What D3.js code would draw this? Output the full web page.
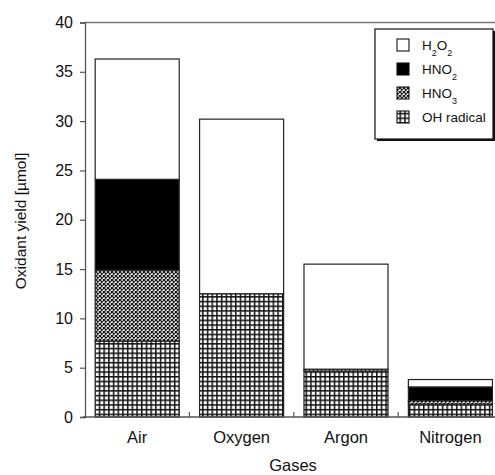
<!DOCTYPE html>
<html><head><meta charset="utf-8">
<script src="https://cdn.jsdelivr.net/npm/d3@7"></script>
<style>body{margin:0;background:#fff}svg{display:block;font-family:"Liberation Sans",Arial,sans-serif}</style>
</head><body><div id="chart"></div>
<script>
const categories = ["Air", "Oxygen", "Argon", "Nitrogen"];
const seriesNames = ["OH radical", "HNO3", "HNO2", "H2O2"];
const ohRadical = [7.7, 12.5, 4.65, 1.3];
const hno3 = [7.2, 0.0, 0.2, 0.35];
const hno2 = [9.2, 0.0, 0.0, 1.4];
const h2o2 = [12.2, 17.7, 10.65, 0.75];
const yTicks = [0, 5, 10, 15, 20, 25, 30, 35, 40];

const W = 495, H = 475;
const FONT = "Liberation Sans, Arial, sans-serif";
const svg = d3.select("#chart").append("svg").attr("width", W).attr("height", H);
const defs = svg.append("defs");

// grid pattern (OH radical)
const pg = defs.append("pattern").attr("id", "grid").attr("patternUnits", "userSpaceOnUse")
  .attr("width", 4.7).attr("height", 4.7);
pg.append("rect").attr("width", 4.7).attr("height", 4.7).attr("fill", "#fff");
pg.append("rect").attr("x", 0).attr("y", 0).attr("width", 1.5).attr("height", 4.7).attr("fill", "#111");
pg.append("rect").attr("x", 0).attr("y", 0).attr("width", 4.7).attr("height", 1.5).attr("fill", "#111");

// checker / cross-hatch pattern (HNO3)
const pc = defs.append("pattern").attr("id", "check").attr("patternUnits", "userSpaceOnUse")
  .attr("width", 4).attr("height", 4);
pc.append("rect").attr("width", 4).attr("height", 4).attr("fill", "#fff");
pc.append("path").attr("d", "M0,0L4,4M4,0L0,4").attr("stroke", "#111").attr("stroke-width", 1.2);

const fills = {"OH radical": "url(#grid)", "HNO3": "url(#check)", "HNO2": "#000", "H2O2": "#fff"};
const data = {"OH radical": ohRadical, "HNO3": hno3, "HNO2": hno2, "H2O2": h2o2};

const x0 = 85, yTop = 22.5, yBot = 417;
const x = d3.scaleBand().domain(categories).range([x0, 502.6]).paddingInner(0.195).paddingOuter(0.0975);
const y = d3.scaleLinear().domain([0, 40]).range([yBot, yTop]);

const rows = categories.map((c, i) => {
  const r = {cat: c};
  seriesNames.forEach(s => r[s] = data[s][i]);
  return r;
});
const stacked = d3.stack().keys(seriesNames)(rows);

// frame top line
svg.append("line").attr("x1", x0).attr("x2", W).attr("y1", yTop).attr("y2", yTop)
  .attr("stroke", "#777").attr("stroke-width", 1.3);

// bars
stacked.forEach(layer => {
  svg.append("g").selectAll("rect").data(layer.filter(d => d[1] - d[0] > 0)).join("rect")
    .attr("x", d => x(d.data.cat))
    .attr("y", d => y(d[1]))
    .attr("width", x.bandwidth())
    .attr("height", d => y(d[0]) - y(d[1]))
    .attr("fill", fills[layer.key])
    .attr("stroke", "#222").attr("stroke-width", 1.2);
});

// y axis
const yAxis = svg.append("g").attr("transform", `translate(${x0},0)`)
  .call(d3.axisLeft(y).tickValues(yTicks).tickSize(5).tickPadding(7));
yAxis.select(".domain").attr("stroke", "#555").attr("stroke-width", 1.3);
yAxis.selectAll(".tick line").attr("stroke", "#555").attr("stroke-width", 1.2);
yAxis.selectAll("text").attr("font-size", 16).attr("fill", "#111").attr("font-family", FONT);

// x axis
const xAxis = svg.append("g").attr("transform", `translate(0,${yBot})`);
xAxis.append("line").attr("x1", x0 - 2).attr("x2", W).attr("y1", 0).attr("y2", 0)
  .attr("stroke", "#555").attr("stroke-width", 1.3);
categories.slice(1).forEach(c => {
  const bx = x(c) - x.step() * x.paddingInner() / 2;
  xAxis.append("line").attr("x1", bx).attr("x2", bx).attr("y1", 0).attr("y2", -5)
    .attr("stroke", "#555").attr("stroke-width", 1.2);
});
xAxis.selectAll("text.cat").data(categories).join("text").attr("class", "cat")
  .attr("x", c => x(c) + x.bandwidth() / 2).attr("y", 26)
  .attr("text-anchor", "middle").attr("font-size", 16.5).attr("fill", "#111").text(c => c);

svg.append("text").attr("x", 293).attr("y", 471).attr("text-anchor", "middle")
  .attr("font-size", 16.5).attr("fill", "#111").text("Gases");
svg.append("text").attr("transform", "translate(26,221) rotate(-90)").attr("text-anchor", "middle")
  .attr("font-size", 15.5).attr("fill", "#111").text("Oxidant yield [µmol]");

// legend
const lg = svg.append("g");
lg.append("rect").attr("x", 377).attr("y", 31).attr("width", 118).attr("height", 110).attr("fill", "#111");
lg.append("rect").attr("x", 375).attr("y", 29).attr("width", 118).attr("height", 110)
  .attr("fill", "#fff").attr("stroke", "#111").attr("stroke-width", 1.2);
const legendItems = [
  {key: "H2O2", base: "H", parts: [["2", true], ["O", false], ["2", true]]},
  {key: "HNO2", base: "HNO", parts: [["2", true]]},
  {key: "HNO3", base: "HNO", parts: [["3", true]]},
  {key: "OH radical", base: "OH radical", parts: []}
];
legendItems.forEach((it, i) => {
  const cy = 45 + i * 24;
  lg.append("rect").attr("x", 397).attr("y", cy - 6).attr("width", 12).attr("height", 12)
    .attr("fill", fills[it.key]).attr("stroke", "#111").attr("stroke-width", 1.1);
  const t = lg.append("text").attr("x", 422).attr("y", cy + 5).attr("font-size", 13.5).attr("fill", "#111");
  t.append("tspan").text(it.base);
  let shifted = false;
  it.parts.forEach(([s, sub]) => {
    const ts = t.append("tspan").text(s);
    if (sub) { ts.attr("font-size", 9).attr("dy", shifted ? 0 : 6); shifted = true; }
    else { ts.attr("font-size", 13.5).attr("dy", shifted ? -6 : 0); shifted = false; }
  });
});
</script>
</body></html>
